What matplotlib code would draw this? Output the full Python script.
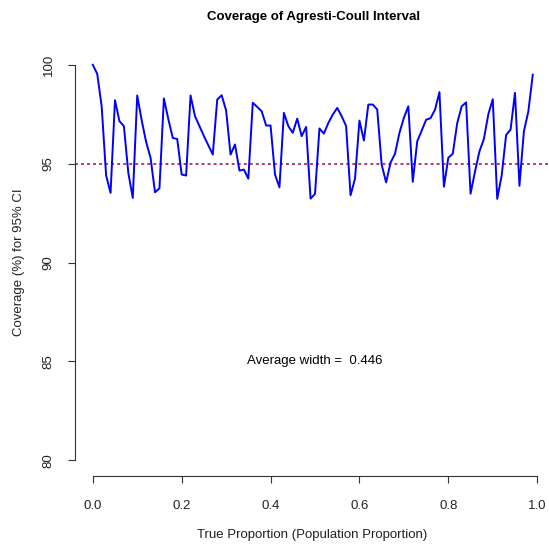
"""Coverage of the Agresti-Coull interval across the true proportion."""

import matplotlib
matplotlib.use("Agg")
import matplotlib.pyplot as plt

plt.rcParams["font.family"] = ["Liberation Sans", "DejaVu Sans"]

# true proportion grid (0.00 .. 0.99)
p = [0.00, 0.01, 0.02, 0.03, 0.04, 0.05, 0.06, 0.07, 0.08, 0.09,
     0.10, 0.11, 0.12, 0.13, 0.14, 0.15, 0.16, 0.17, 0.18, 0.19,
     0.20, 0.21, 0.22, 0.23, 0.24, 0.25, 0.26, 0.27, 0.28, 0.29,
     0.30, 0.31, 0.32, 0.33, 0.34, 0.35, 0.36, 0.37, 0.38, 0.39,
     0.40, 0.41, 0.42, 0.43, 0.44, 0.45, 0.46, 0.47, 0.48, 0.49,
     0.50, 0.51, 0.52, 0.53, 0.54, 0.55, 0.56, 0.57, 0.58, 0.59,
     0.60, 0.61, 0.62, 0.63, 0.64, 0.65, 0.66, 0.67, 0.68, 0.69,
     0.70, 0.71, 0.72, 0.73, 0.74, 0.75, 0.76, 0.77, 0.78, 0.79,
     0.80, 0.81, 0.82, 0.83, 0.84, 0.85, 0.86, 0.87, 0.88, 0.89,
     0.90, 0.91, 0.92, 0.93, 0.94, 0.95, 0.96, 0.97, 0.98, 0.99]

# coverage (%)
coverage = [100.00, 99.54, 97.90, 94.41, 93.52, 98.21, 97.15, 96.90, 94.53, 93.27,
            98.45, 97.20, 96.10, 95.30, 93.55, 93.75, 98.30, 97.25, 96.30, 96.25,
            94.45, 94.40, 98.45, 97.40, 96.90, 96.40, 95.93, 95.46, 98.24, 98.46,
            97.69, 95.46, 95.97, 94.65, 94.70, 94.24, 98.08, 97.87, 97.65, 96.93,
            96.93, 94.45, 93.80, 97.57, 96.90, 96.56, 97.28, 96.39, 96.86, 93.23,
            93.47, 96.78, 96.52, 97.06, 97.48, 97.82, 97.40, 96.90, 93.40, 94.24,
            97.18, 96.17, 97.99, 97.99, 97.74, 94.95, 94.05, 95.05, 95.50, 96.56,
            97.32, 97.90, 94.08, 96.13, 96.67, 97.22, 97.30, 97.73, 98.62, 93.83,
            95.30, 95.50, 97.05, 97.90, 98.10, 93.48, 94.60, 95.62, 96.25, 97.50,
            98.26, 93.22, 94.40, 96.45, 96.72, 98.58, 93.88, 96.63, 97.64, 99.50]

NOMINAL = 95
AVG_WIDTH = 0.446
XTICKS = [0.0, 0.2, 0.4, 0.6, 0.8, 1.0]
YTICKS = [80, 85, 90, 95, 100]

W, H = 549, 548
FS = 9.5
fig = plt.figure(figsize=(W / 100, H / 100), dpi=100)
# plot region in pixels: x 75..555, y 49..476 (runs past the right edge)
ax = fig.add_axes([75 / W, 1 - 476 / H, 480 / W, 427 / H])
ax.set_xlim(-0.04, 1.04)
ax.set_ylim(79.2, 100.8)

ax.plot(p, coverage, color="#0000FF", lw=1.4, solid_joinstyle="round",
        zorder=3)
ax.axhline(NOMINAL, color="#B8386A", lw=1.4, dashes=(1.5, 1.6), zorder=2)
ax.text(0.5, 85, f"Average width =  {AVG_WIDTH}", ha="center", va="center",
        fontsize=FS)

for s in ("top", "right"):
    ax.spines[s].set_visible(False)
ax.spines["left"].set_bounds(80, 100)
ax.spines["bottom"].set_bounds(0, 1)
for s in ("left", "bottom"):
    ax.spines[s].set_linewidth(0.8)
    ax.spines[s].set_color("#333333")

ax.set_xticks(XTICKS)
ax.set_xticklabels([f"{v:.1f}" for v in XTICKS])
ax.set_yticks(YTICKS)
ax.set_yticklabels([str(v) for v in YTICKS], rotation=90, va="center")
ax.tick_params(axis="both", length=5, width=0.8, color="#333333",
               labelsize=FS, labelcolor="#222222")
ax.tick_params(axis="x", pad=12)
ax.tick_params(axis="y", pad=9.5)

fig.text(314 / W, 1 - 17 / H, "Coverage of Agresti-Coull Interval",
         ha="center", va="center", fontsize=9.5, fontweight="bold")
fig.text(312 / W, 1 - 535 / H, "True Proportion (Population Proportion)",
         ha="center", va="center", fontsize=FS, color="#222222")
fig.text(19 / W, 1 - 262 / H, "Coverage (%) for 95% CI", ha="center",
         va="center", rotation=90, fontsize=FS, color="#222222")

fig.savefig("out.png", dpi=100)
